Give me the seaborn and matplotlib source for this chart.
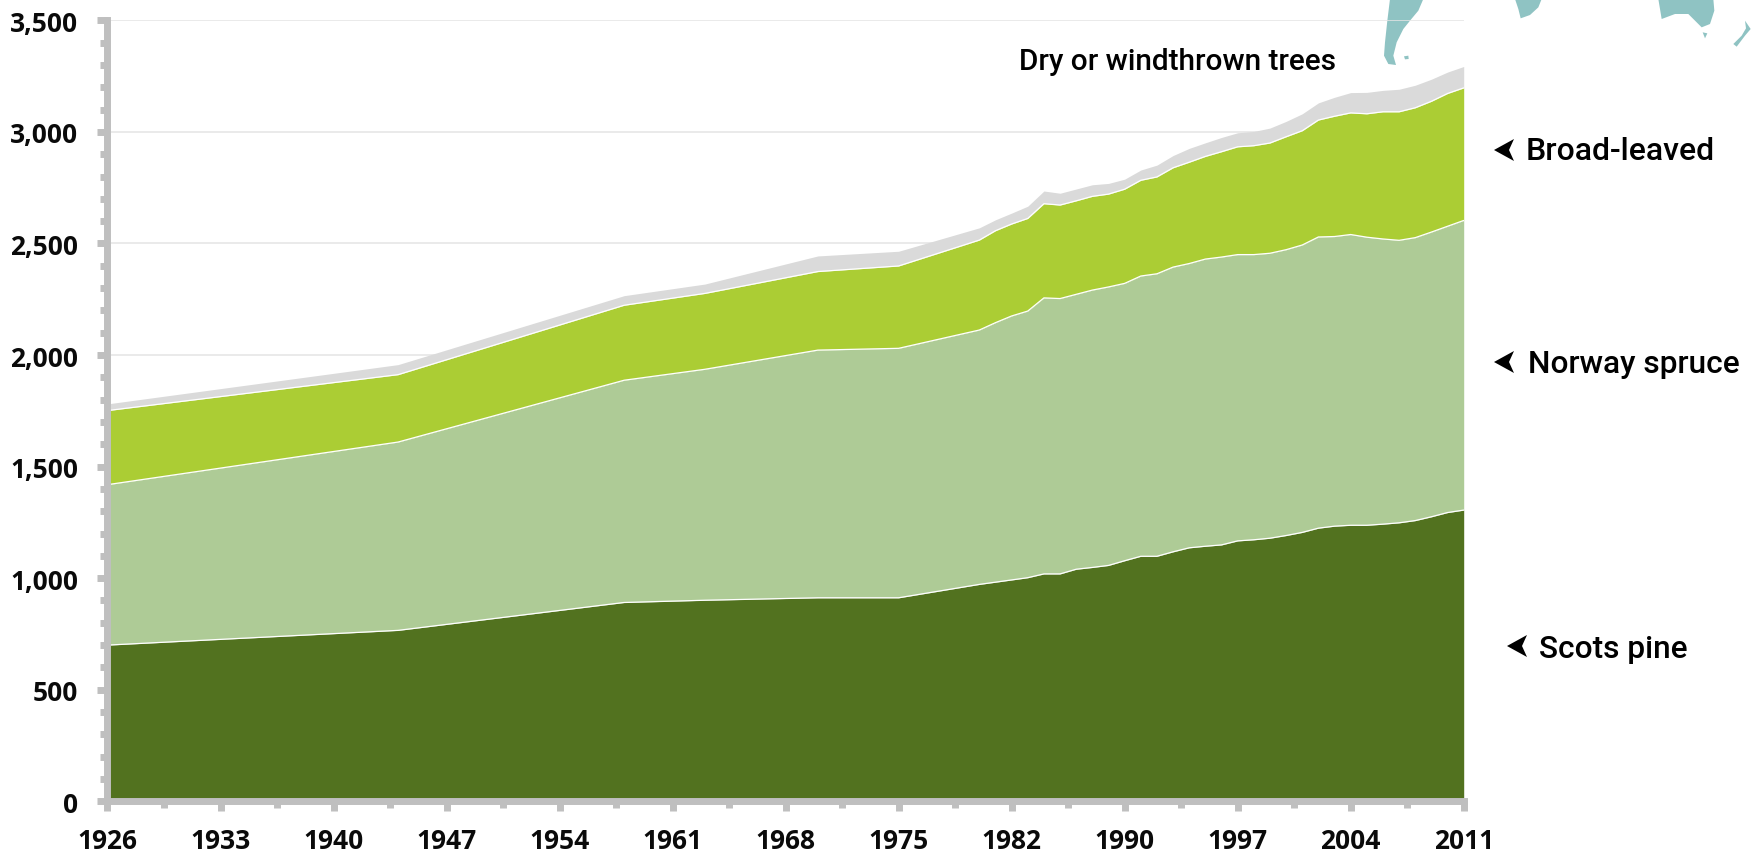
import matplotlib
matplotlib.use('Agg')
import matplotlib.pyplot as plt
import numpy as np
import seaborn as sns
from matplotlib.patches import Polygon
from matplotlib.ticker import FuncFormatter, MultipleLocator

knot_years = [1926, 1944, 1958, 1963, 1970, 1975, 1980, 1981, 1982, 1983,
              1984, 1985, 1986, 1987, 1988, 1990, 1991, 1992, 1993, 1994,
              1995, 1996, 1997, 1998, 1999, 2000, 2001, 2002, 2003, 2004,
              2005, 2006, 2007, 2008, 2009, 2010, 2011]
scots_top = [700, 766, 891, 901, 912, 912, 972, 982, 992, 1002,
             1019, 1019, 1040, 1048, 1057, 1078, 1098, 1098, 1118, 1136,
             1143, 1149, 1167, 1172, 1179, 1191, 1205, 1224, 1233, 1237,
             1237, 1242, 1248, 1258, 1275, 1294, 1305]
spruce_top = [1419, 1610, 1887, 1936, 2022, 2030, 2112, 2145, 2175, 2197,
              2256, 2253, 2272, 2291, 2305, 2321, 2354, 2364, 2394, 2410,
              2430, 2439, 2450, 2450, 2456, 2472, 2493, 2529, 2531, 2540,
              2528, 2520, 2514, 2526, 2551, 2577, 2603]
broad_top = [1751, 1912, 2223, 2276, 2374, 2399, 2515, 2557, 2587, 2612,
             2678, 2672, 2691, 2711, 2721, 2743, 2783, 2798, 2839, 2864,
             2890, 2911, 2933, 2938, 2950, 2978, 3005, 3053, 3070, 3085,
             3081, 3090, 3090, 3108, 3137, 3172, 3197]
total_top = [1781, 1957, 2266, 2318, 2444, 2465, 2570, 2606, 2636, 2667,
             2735, 2725, 2744, 2763, 2769, 2788, 2829, 2851, 2894, 2926,
             2951, 2975, 2996, 3002, 3017, 3047, 3081, 3130, 3155, 3176,
             3177, 3186, 3191, 3209, 3236, 3268, 3293]

# the axis is a category axis and 1989 has no slot on it
axis_years = [y for y in range(1926, 2012) if y != 1989]
tick_labels = axis_years[::7]

W, H = 1758, 854
AX_GREY = '#bfbfbf'
TEAL = '#8fc3c3'


def px(x, y):
    return x / W, 1 - y / H


def add_bits(bits, x0, color):
    # shapes are in 3x crop units of the source image
    for bit in bits:
        pts = [px(x0 + a / 3, b / 3) for a, b in bit]
        fig.add_artist(Polygon(pts, closed=True, transform=fig.transFigure, fc=color, ec='none', zorder=-1))


sns.set_theme(style='ticks')
plt.rcParams['font.family'] = ['Open Sans', 'DejaVu Sans']
plt.rcParams['font.weight'] = 'bold'

fig = plt.figure(figsize=(W / 100, H / 100), dpi=100)
left, bottom = px(107.5, 802.3)
right, top = px(1463.7, 21.3)
ax = fig.add_axes([left, bottom, right - left, top - bottom])
ax.patch.set_alpha(0)

# bits of a world map left over in the top right corner of the source image
add_bits([[(60, 0), (160, 0), (145, 35), (120, 65), (100, 90), (80, 130), (70, 170),
           (78, 198), (55, 195), (42, 170), (45, 130), (52, 65)],
          [(102, 172), (115, 170), (116, 180), (105, 181)]], 1370, TEAL)
add_bits([[(105, 0), (185, 0), (175, 25), (150, 48), (122, 58), (115, 30)],
          [(535, 0), (700, 0), (703, 35), (690, 75), (665, 85), (625, 45), (585, 45), (545, 60), (540, 30)],
          [(668, 100), (682, 103), (675, 118)],
          [(795, 65), (812, 90), (795, 110), (770, 143), (760, 135), (785, 110), (798, 88)]], 1480, TEAL)

x = [axis_years.index(y) for y in knot_years]
zeros = np.zeros(len(x))
ax.fill_between(x, broad_top, total_top, color='#dadada', lw=0, zorder=1)
ax.fill_between(x, spruce_top, broad_top, color='#abcd34', lw=0, zorder=1)
ax.fill_between(x, scots_top, spruce_top, color='#aecb96', lw=0, zorder=1)
ax.fill_between(x, zeros, scots_top, color='#52721f', lw=0, zorder=1)
for tops in (scots_top, spruce_top, broad_top):
    sns.lineplot(x=x, y=tops, color='white', lw=0.9, ax=ax, zorder=1.5, legend=False)

ax.set_xlim(0, 84)
ax.set_ylim(0, 3500)
ax.set_xlabel('')
ax.set_ylabel('')
ax.xaxis.set_minor_locator(MultipleLocator(3.5))
ax.set_xticks(range(0, 85, 7))
ax.set_xticklabels(tick_labels)
ax.yaxis.set_major_locator(MultipleLocator(500))
ax.yaxis.set_minor_locator(MultipleLocator(100))
ax.yaxis.set_major_formatter(FuncFormatter(lambda v, _: f'{int(v):,}'))

ax.set_axisbelow(True)
ax.grid(axis='y', which='major', color='#e4e4e4', lw=1.1)
ax.grid(axis='x', visible=False)
sns.despine(ax=ax)
for side in ('left', 'bottom'):
    ax.spines[side].set_color(AX_GREY)
    ax.spines[side].set_linewidth(5.0)
ax.tick_params(axis='both', which='major', length=7.2, width=5, color=AX_GREY,
               labelsize=19, labelcolor='#0a0a0a')
ax.tick_params(axis='both', which='minor', length=5, width=5, color=AX_GREY)
ax.tick_params(axis='x', which='major', pad=11.5)
ax.tick_params(axis='y', which='major', pad=14)

# series notes sit outside the axes, as in the source
notes = [
    ('Dry or windthrown trees', 1019, 62, 21.4),
    ('Broad-leaved', 1526, 152, 23),
    ('Norway spruce', 1528, 365, 22.8),
    ('Scots pine', 1539, 650, 22.8),
]
for txt, nx, ny, size in notes:
    fx, fy = px(nx, ny)
    fig.text(fx, fy, txt, ha='left', va='center', fontsize=size, fontweight='medium',
             family=['Roboto', 'DejaVu Sans'], color='black')

for ax0, ay0 in [(1494, 151), (1494, 363), (1507, 647)]:
    head = [px(ax0, ay0), px(ax0 + 20, ay0 - 11), px(ax0 + 15, ay0), px(ax0 + 20, ay0 + 11)]
    fig.add_artist(Polygon(head, closed=True, transform=fig.transFigure, fc='black', ec='none'))

fig.savefig('out.png', dpi=100)
